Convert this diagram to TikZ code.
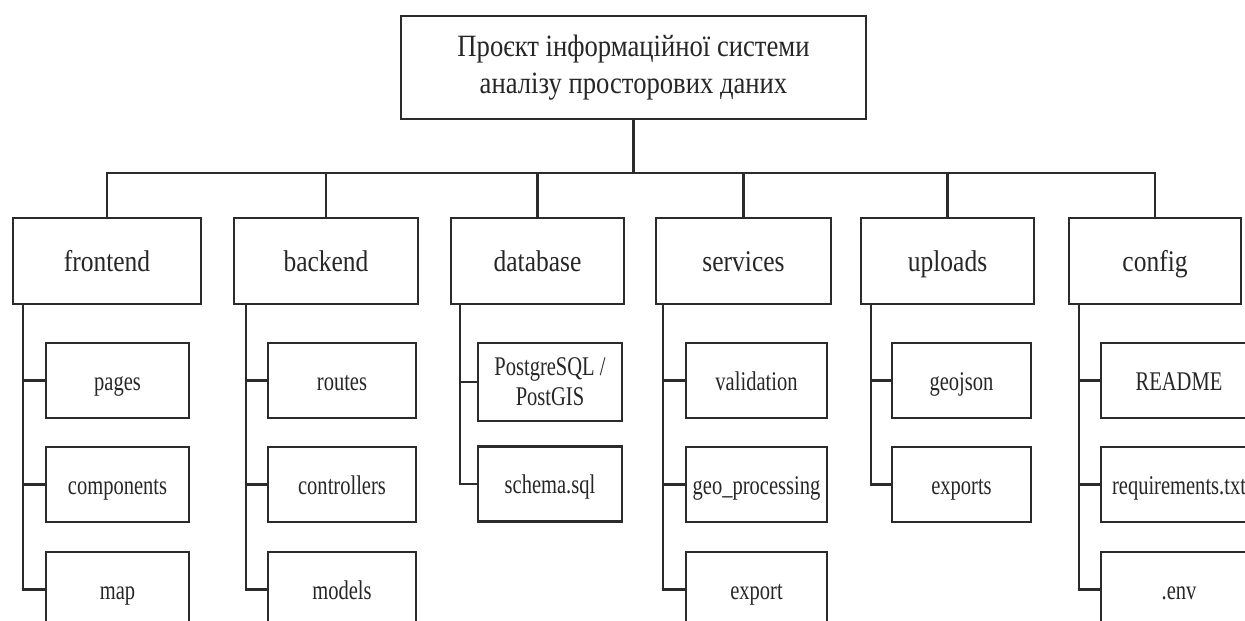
\documentclass[tikz,border=0pt]{standalone}
\usepackage{fontspec}
\setmainfont{Liberation Serif}[FakeStretch=0.82]
\newfontfamily\rootfont{Liberation Serif}[FakeStretch=0.86]
\newfontfamily\catfont{Liberation Serif}[FakeStretch=0.85]
\newfontfamily\leaffont{Liberation Serif}[FakeStretch=0.76]
\definecolor{treeline}{HTML}{2B2B2B}
\definecolor{treetext}{HTML}{262626}

\begin{document}
\begin{tikzpicture}[x=1pt,y=-1pt,line width=2.4pt,draw=treeline,text=treetext,
  root box/.style={rectangle,draw,minimum width=465pt,minimum height=103pt,align=center,font=\rootfont\fontsize{31}{37}\selectfont},
  cat box/.style={rectangle,draw,minimum width=174pt,minimum height=86pt,text height=21pt,text depth=0pt,font=\catfont\fontsize{30}{34}\selectfont},
  leaf base/.style={rectangle,draw,minimum width=143pt,minimum height=75pt,align=center,font=\leaffont\fontsize{27}{30}\selectfont},
  leaf box/.style={leaf base,text height=19pt,text depth=0pt},
  drop/.style={to path={-| (\tikztotarget)}},
  branch/.style={to path={|- (\tikztotarget)}}]

  \useasboundingbox (0,0) rectangle (1245,621);
  \clip (0,0) rectangle (1245,621);

  % root
  \node[root box] (root) at (633.5,67.5) {Проєкт інформаційної системи\\аналізу просторових даних};
  \coordinate (bus) at (633.5,173);

  % folders
  \node[cat box,minimum width=188pt] (fe) at (107,261) {frontend};
  \node[cat box,minimum width=184pt] (be) at (326,261) {backend};
  \node[cat box,minimum width=173pt] (db) at (537.5,261) {database};
  \node[cat box,minimum width=175pt] (sv) at (743.5,261) {services};
  \node[cat box,minimum width=173pt] (up) at (947.5,261) {uploads};
  \node[cat box,minimum width=172pt] (cf) at (1155,261) {config};

  \coordinate (fe spine) at ([xshift=11pt]fe.south west);
  \coordinate (be spine) at ([xshift=13pt]be.south west);
  \coordinate (db spine) at ([xshift=10pt]db.south west);
  \coordinate (sv spine) at ([xshift=8pt]sv.south west);
  \coordinate (up spine) at ([xshift=11pt]up.south west);
  \coordinate (cf spine) at ([xshift=11pt]cf.south west);

  % files
  \node[leaf box] (fe1) at (117.5,380.5) {pages};
  \node[leaf box] (fe2) at (117.5,484.5) {components};
  \node[leaf box] (fe3) at (117.5,589.5) {map};

  \node[leaf box,minimum width=148pt] (be1) at (342,380.5) {routes};
  \node[leaf box,minimum width=148pt] (be2) at (342,484.5) {controllers};
  \node[leaf box,minimum width=148pt] (be3) at (342,589.5) {models};

  \node[leaf base,minimum width=144pt,minimum height=78pt] (db1) at (550,382) {PostgreSQL /\\PostGIS};
  \node[leaf box,minimum width=144pt] (db2) at (550,484) {schema.sql};

  \node[leaf box,minimum width=141pt] (sv1) at (756.5,380.5) {validation};
  \node[leaf box,minimum width=141pt] (sv2) at (756.5,484.5) {geo\_processing};
  \node[leaf box,minimum width=141pt] (sv3) at (756.5,589.5) {export};

  \node[leaf box,minimum width=139pt] (up1) at (961.5,380.5) {geojson};
  \node[leaf box,minimum width=139pt] (up2) at (961.5,484.5) {exports};

  \node[leaf box,minimum width=156pt] (cf1) at (1179,380.5) {README};
  \node[leaf box,minimum width=156pt] (cf2) at (1179,484.5) {requirements.txt};
  \node[leaf box,minimum width=156pt] (cf3) at (1179,589.5) {.env};

  \draw (root) -- (bus);
  \path[draw,drop]
    (bus) edge (fe)
    (bus) edge (be)
    (bus) edge (db)
    (bus) edge (sv)
    (bus) edge (up)
    (bus) edge (cf)
    ;

  \path[draw,branch]
    (fe spine) edge (fe1)
    (fe spine) edge (fe2)
    (fe spine) edge (fe3)
    (be spine) edge (be1)
    (be spine) edge (be2)
    (be spine) edge (be3)
    (db spine) edge (db1)
    (db spine) edge (db2)
    (sv spine) edge (sv1)
    (sv spine) edge (sv2)
    (sv spine) edge (sv3)
    (up spine) edge (up1)
    (up spine) edge (up2)
    (cf spine) edge (cf1)
    (cf spine) edge (cf2)
    (cf spine) edge (cf3)
    ;
\end{tikzpicture}
\end{document}
